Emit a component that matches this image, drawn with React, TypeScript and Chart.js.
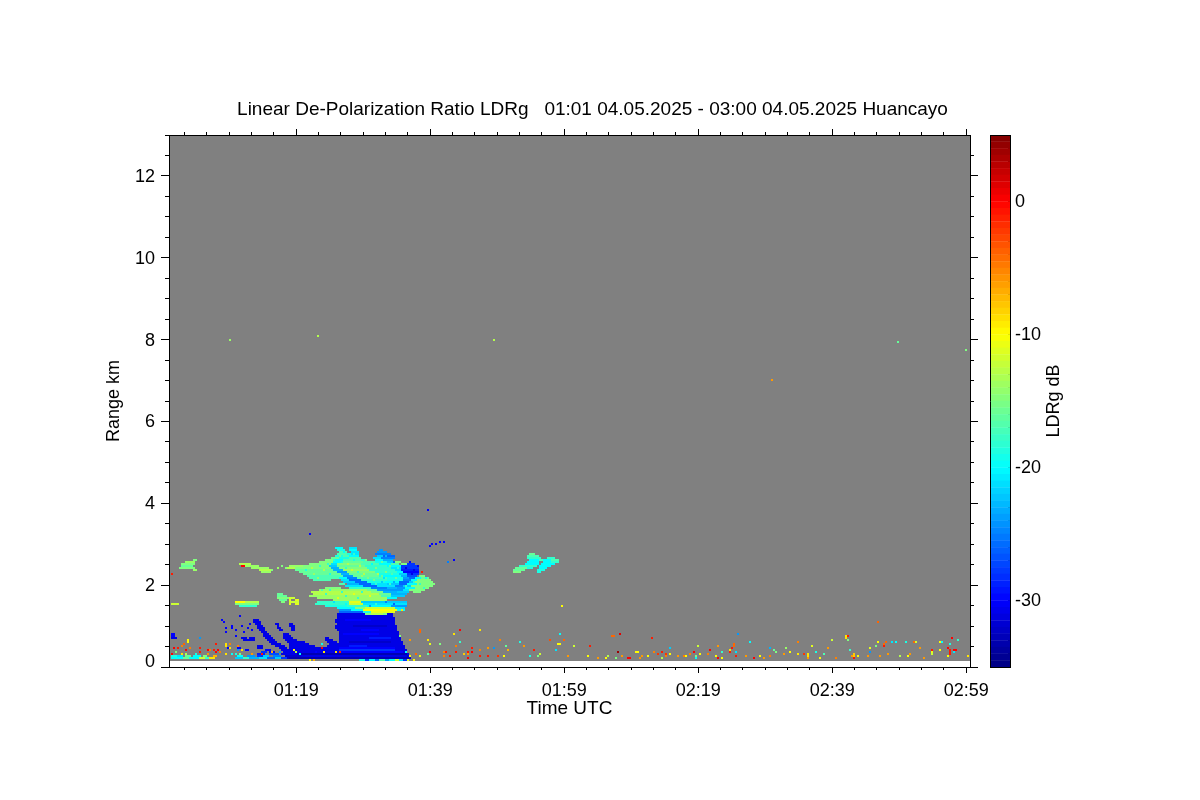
import React, { useEffect, useRef } from "react";
import { Chart, registerables } from "chart.js";

Chart.register(...registerables);

const TITLE = "Linear De-Polarization Ratio LDRg   01:01 04.05.2025 - 03:00 04.05.2025 Huancayo";
const FONT = "'Liberation Sans', Arial, sans-serif";

// axes
const TIME_MAX = 119.552;
const RANGE_MAX = 13;
const timeMajor = [19, 39, 59, 79, 99, 119];
const timeMinor = [2.33, 5.67, 9, 12.33, 15.67, 22.33, 25.67, 29, 32.33, 35.67, 42.33, 45.67, 49, 52.33, 55.67, 62.33, 65.67, 69, 72.33, 75.67, 82.33, 85.67, 89, 92.33, 95.67, 102.33, 105.67, 109, 112.33, 115.67];
const rangeMajor = [0, 2, 4, 6, 8, 10, 12];
const rangeMinor = [0.5, 1, 1.5, 2.5, 3, 3.5, 4.5, 5, 5.5, 6.5, 7, 7.5, 8.5, 9, 9.5, 10.5, 11, 11.5, 12.5];
const ldrLabels = [-30, -20, -10, 0];
const ldrTicks = [-34, -33, -32, -31, -30, -29, -28, -27, -26, -25, -24, -23, -22, -21, -20, -19, -18, -17, -16, -15, -14, -13, -12, -11, -10, -9, -8, -7, -6, -5, -4, -3, -2, -1, 0, 1, 2, 3, 4];
const ldrLevels = [-35, -34.5, -34, -33.5, -33, -32.5, -32, -31.5, -31, -30.5, -30, -29.5, -29, -28.5, -28, -27.5, -27, -26.5, -26, -25.5, -25, -24.5, -24, -23.5, -23, -22.5, -22, -21.5, -21, -20.5, -20, -19.5, -19, -18.5, -18, -17.5, -17, -16.5, -16, -15.5, -15, -14.5, -14, -13.5, -13, -12.5, -12, -11.5, -11, -10.5, -10, -9.5, -9, -8.5, -8, -7.5, -7, -6.5, -6, -5.5, -5, -4.5, -4, -3.5, -3, -2.5, -2, -1.5, -1, -0.5, 0, 0.5, 1, 1.5, 2, 2.5, 3, 3.5, 4, 4.5];

// sampling of the lidar grid: one profile in minutes, one range gate in km
const PROFILE_MIN = 0.29851;
const GATE_KM = 13 / 266;
const FIRST_GATE = 3;

// [gate, firstProfile, lastProfile, LDR dB, ...more runs on that gate]
const plumeRows = [
  [23, 42, 44, -31], [22, 42, 45, -31], [21, 43, 45, -31, 53, 54, -31, 60, 61, -31],
  [20, 44, 46, -31, 54, 54, -31, 60, 62, -31], [19, 44, 47, -31, 54, 55, -31, 61, 62, -31],
  [18, 45, 47, -31, 55, 56, -31, 61, 62, -31], [17, 46, 48, -31], [16, 47, 49, -31, 57, 59, -31],
  [15, 47, 50, -31, 57, 60, -31], [14, 48, 51, -31, 36, 38, -31, 40, 42, -31, 57, 61, -31, 78, 79, -31],
  [13, 49, 52, -31, 37, 42, -31, 58, 63, -31, 78, 81, -31], [12, 50, 53, -31, 59, 67, -31, 79, 83, -31],
  [11, 51, 55, -31, 60, 69, -31, 80, 84, -31], [10, 44, 46, -31, 53, 57, -31, 60, 72, -31, 79, 84, -31],
  [9, 29, 30, -30, 34, 35, -30, 44, 46, -31, 55, 58, -31, 60, 75, -31, 77, 84, -31], [8, 38, 39, -30, 48, 50, -30, 56, 84, -31],
  [7, 46, 48, -28, 50, 52, -30, 57, 72, -31, 74, 84, -31], [6, 44, 47, -29, 50, 54, -27, 56, 60, -31],
];

const massRows = [
  [28, 86, 110, -31], [27, 85, 110, -31], [26, 84, 111, -31], [25, 84, 111, -31], [24, 84, 112, -31], [23, 83, 112, -31],
  [22, 83, 112, -31], [21, 84, 112, -31], [20, 83, 113, -31], [19, 83, 113, -31], [18, 84, 113, -31], [17, 85, 114, -31],
  [16, 85, 114, -31], [15, 85, 114, -31], [14, 85, 115, -31], [13, 85, 115, -31], [12, 85, 116, -31], [11, 84, 116, -31],
  [10, 83, 117, -31], [9, 82, 117, -31], [8, 80, 118, -31], [7, 72, 118, -31], [6, 60, 119, -31], [5, 58, 119, -32], [4, 58, 120, -32],
];

const massTexture = [
  [23, 88, 100, -30], [20, 92, 108, -32], [18, 96, 104, -30], [16, 87, 104, -30], [14, 100, 110, -29], [12, 90, 110, -32],
  [10, 90, 98, -29], [9, 84, 112, -30], [8, 84, 112, -28], [7, 70, 116, -30], [6, 64, 118, -33], [5, 66, 118, -31], [4, 60, 119, -33],
];

const cloudRows = [
  [59, 83, 86, -20, 90, 93, -21],
  [58, 84, 87, -19, 90, 93, -20, 105, 106, -24],
  [57, 85, 88, -17, 91, 94, -21, 104, 108, -24],
  [56, 84, 88, -17, 89, 90, -19, 91, 94, -21, 103, 110, -25],
  [55, 83, 86, -19, 87, 89, -17, 90, 94, -20, 104, 106, -22, 107, 112, -26],
  [54, 81, 84, -16, 85, 89, -19, 90, 95, -17, 102, 105, -21, 106, 112, -25],
  [53, 78, 82, -15, 83, 86, -20, 87, 95, -17, 96, 98, -18, 103, 106, -20, 107, 111, -23],
  [52, 75, 81, -15, 82, 85, -20, 86, 96, -16, 97, 102, -17, 103, 108, -19, 109, 112, -22, 113, 115, -15],
  [51, 70, 80, -15, 81, 83, -21, 84, 95, -15, 96, 104, -17, 105, 110, -20, 111, 114, -17, 116, 118, -15, 119, 122, -28],
  [50, 60, 66, -14, 67, 79, -15, 80, 83, -22, 84, 97, -16, 98, 108, -18, 109, 115, -20, 116, 123, -28],
  [49, 58, 62, -13, 63, 80, -15, 81, 84, -23, 85, 98, -15, 99, 110, -18, 111, 115, -21, 116, 124, -28],
  [48, 63, 81, -16, 82, 86, -23, 87, 100, -14, 101, 112, -18, 113, 115, -21, 116, 124, -29],
  [47, 65, 83, -16, 84, 88, -24, 89, 102, -15, 103, 113, -18, 114, 116, -20, 117, 124, -30],
  [46, 67, 85, -16, 86, 89, -23, 90, 104, -16, 105, 114, -19, 115, 118, -22, 119, 124, -28],
  [45, 69, 86, -17, 87, 91, -24, 92, 106, -16, 107, 115, -20, 116, 118, -23, 119, 123, -27, 125, 127, -15],
  [44, 70, 84, -17, 85, 88, -20, 89, 93, -25, 94, 108, -17, 109, 116, -19, 117, 119, -24, 120, 122, -26, 123, 125, -20, 126, 129, -16],
  [43, 72, 80, -17, 86, 89, -21, 90, 95, -26, 96, 108, -18, 109, 116, -19, 117, 120, -25, 121, 123, -20, 124, 130, -15],
  [42, 87, 92, -22, 93, 98, -26, 99, 107, -19, 108, 114, -20, 115, 119, -26, 120, 122, -22, 123, 131, -15],
  [41, 85, 87, -17, 89, 94, -23, 95, 100, -26, 101, 108, -21, 109, 114, -22, 115, 118, -26, 119, 123, -20, 124, 132, -15],
  [40, 88, 96, -21, 97, 103, -26, 104, 112, -21, 113, 116, -25, 117, 120, -22, 121, 131, -15],
  [39, 78, 85, -15, 90, 100, -18, 101, 108, -25, 109, 113, -23, 114, 117, -24, 118, 122, -20, 123, 129, -15],
  [38, 75, 98, -14, 99, 103, -16, 104, 110, -24, 111, 115, -24, 116, 119, -21, 120, 127, -15],
  [37, 71, 100, -13, 101, 106, -15, 107, 113, -23, 114, 119, -22, 122, 125, -15],
  [36, 72, 104, -13, 105, 110, -16, 111, 118, -23],
  [35, 70, 105, -14, 106, 110, -17, 111, 117, -22],
  [34, 74, 108, -14, 109, 113, -20],
  [33, 82, 108, -14],
  [32, 74, 89, -18, 90, 95, -11, 96, 118, -22],
  [31, 73, 89, -18, 90, 96, -12, 97, 118, -21],
  [30, 78, 88, -19, 89, 98, -18, 99, 110, -20, 111, 118, -24],
  [29, 84, 92, -20, 93, 97, -15, 98, 112, -12, 113, 117, -21],
  [28, 85, 90, -24, 91, 96, -20, 97, 113, -10, 114, 117, -20],
  [27, 85, 96, -26, 97, 100, -19, 101, 112, -11],
  [26, 98, 100, -15, 101, 106, -13, 107, 108, -15],
];

// [profile, gate, LDR dB] mottling seen inside the cloud deck
const cloudMottle = [
  [86, 52, -19], [89, 51, -13], [92, 53, -19], [95, 50, -13], [88, 49, -18], [91, 48, -12], [94, 47, -18], [97, 46, -13], [100, 48, -18], [103, 49, -15],
  [99, 44, -15], [102, 43, -15], [105, 45, -19], [108, 47, -15], [110, 50, -16], [106, 52, -16], [101, 51, -20], [98, 53, -15], [96, 45, -14], [104, 46, -13],
  [111, 46, -17], [113, 44, -16], [112, 42, -23], [110, 41, -18], [106, 42, -22], [103, 41, -18], [107, 44, -21], [114, 49, -18], [112, 52, -26], [108, 55, -23],
  [85, 55, -16], [87, 57, -20], [92, 56, -18], [82, 53, -18], [79, 51, -18], [75, 50, -18], [71, 49, -13], [77, 48, -13], [72, 46, -14], [68, 48, -19], [80, 46, -19], [74, 44, -14],
  [80, 38, -18], [86, 37, -18], [92, 36, -11], [96, 37, -18], [78, 36, -18], [88, 35, -18], [94, 34, -18], [84, 34, -11], [100, 35, -11], [76, 38, -17],
  [103, 31, -18], [108, 32, -25], [112, 31, -26], [100, 30, -24], [88, 31, -20], [82, 32, -21], [116, 38, -24], [118, 40, -18], [125, 41, -18], [128, 44, -19], [127, 39, -18], [122, 42, -18],
  [58, 49, -15], [56, 50, -15], [54, 49, -14], [51, 48, -15], [120, 52, -30], [124, 50, -31], [118, 49, -31], [121, 46, -31], [122, 48, -31], [126, 47, -1],
];

const sideCloudRows = [
  [53, 12, 13, -15], [52, 8, 12, -14], [51, 6, 12, -15], [50, 6, 11, -16], [49, 5, 12, -15], [48, 12, 13, -14], [46, 1, 1, -1],
  [51, 35, 40, -13], [50, 36, 44, -14], [49, 41, 49, -14], [48, 45, 50, -13], [47, 46, 50, -14], [50, 36, 37, 0],
  [32, 33, 37, -10, 38, 44, -13], [31, 33, 44, -15, 1, 4, -12], [30, 35, 43, -18],
  [36, 54, 56, -16], [35, 54, 58, -16], [34, 54, 59, -15, 60, 62, -12], [33, 55, 58, -16, 60, 60, -11, 63, 64, -11],
  [32, 56, 57, -15, 60, 64, -12], [31, 60, 60, -11, 63, 64, -11],
  [56, 180, 182, -16], [55, 179, 184, -17], [54, 179, 185, -18, 189, 192, -18], [53, 180, 184, -20, 185, 186, -17, 187, 190, -20, 191, 194, -17],
  [52, 179, 184, -20, 187, 190, -20, 191, 194, -18], [51, 178, 184, -20, 186, 192, -20], [50, 175, 183, -18, 185, 190, -20],
  [49, 173, 178, -16, 179, 181, -19, 185, 188, -20], [48, 172, 177, -16, 184, 187, -19], [47, 172, 175, -15, 184, 185, -19],
];

const groundRows = [
  [4, 1, 6, -20, 7, 9, -16, 10, 14, -20, 15, 17, -12, 18, 19, -18, 20, 22, -9, 33, 36, -22, 37, 39, -18, 40, 44, -23, 45, 48, -21, 49, 52, -26, 53, 55, -22, 56, 58, -28],
  [5, 1, 3, -19, 4, 6, -21, 8, 10, -16, 12, 15, -20, 17, 18, -15, 22, 23, -7, 34, 36, -20, 39, 42, -24, 44, 46, -28, 47, 49, -22, 52, 55, -25],
  [16, 1, 2, -30], [15, 1, 2, -30], [14, 1, 3, -31],
  [3, 70, 70, -10, 72, 72, -7, 95, 97, -19, 98, 99, -28, 100, 102, -20, 103, 104, -26, 105, 107, -17, 108, 109, -24, 110, 112, -20, 113, 114, -12, 115, 116, -21, 117, 118, -28, 119, 119, -11, 122, 122, -10],
];

// [profile, gate, LDR dB]
const speckles = [
  [26, 23, -30], [27, 22, -30], [28, 19, -30], [28, 17, -30], [31, 19, -30], [31, 20, -30], [35, 25, -30], [36, 20, -30], [37, 17, -30], [33, 15, -30], [33, 18, -30], [39, 19, -30], [40, 21, -30], [41, 18, -30],
  [9, 13, -10], [9, 12, -10], [7, 11, -4], [15, 14, -24], [23, 11, -1], [28, 11, -9], [28, 10, -9], [30, 11, -5], [34, 10, -5], [2, 9, 0], [4, 9, -1], [6, 10, -5], [8, 8, 0], [10, 9, -5], [15, 9, -1], [19, 8, 0], [20, 8, -5], [22, 8, -1], [24, 8, 0], [30, 9, -9], [36, 8, -9], [34, 8, -24],
  [1, 6, 0], [3, 7, -15], [6, 6, -9], [8, 6, -13], [13, 6, -19], [15, 7, -1], [19, 6, -6], [23, 7, 0], [25, 7, -5], [28, 6, -9], [31, 6, -20], [33, 6, -19], [35, 6, -15], [41, 6, -6], [46, 6, -1], [51, 7, -7], [55, 7, -24],
  [62, 8, -10], [63, 7, -13], [65, 6, -20], [76, 11, -20], [76, 9, 0], [77, 7, -9], [83, 7, -9], [85, 7, -1], [115, 15, -15], [120, 13, -6], [125, 18, -4], [120, 5, -10], [118, 7, -20], [116, 28, -9],
  [125, 17, -4], [120, 13, -6], [145, 18, 0], [155, 18, -9], [142, 16, -9], [195, 16, -20], [221, 15, -4], [222, 15, -4], [225, 16, 1], [241, 14, -1], [165, 13, -5], [190, 13, -3], [197, 13, -4], [129, 13, -9], [130, 11, -11], [135, 11, -15], [145, 12, -18], [175, 12, -19], [194, 11, -10], [195, 11, -10], [210, 10, -1], [202, 10, -12], [143, 10, -5], [151, 9, -1], [168, 10, -16], [177, 10, -6], [159, 9, -6], [162, 9, -24], [155, 8, -5], [169, 8, -7], [182, 8, -1], [193, 8, -21], [250, 9, -22],
  [130, 7, 0], [138, 7, -1], [143, 7, -1], [149, 7, -1], [151, 7, 0], [137, 7, -5], [147, 6, -8], [149, 6, -6], [129, 6, -16], [123, 6, -4], [185, 6, -12], [224, 7, 4], [233, 7, -10], [234, 7, -10], [242, 7, -5], [246, 7, -1], [250, 6, -10], [248, 6, -2], [244, 6, -2], [260, 6, -5],
  [125, 5, -11], [140, 5, -1], [137, 5, -5], [149, 4, 0], [155, 5, -1], [159, 5, -1], [164, 5, -2], [167, 5, -10], [180, 5, -19], [184, 5, -15], [199, 5, -6], [209, 5, -10], [214, 4, -6], [218, 4, -10], [219, 5, -13], [223, 4, -15], [226, 5, -6], [229, 4, 0], [230, 4, 0], [235, 4, -6], [236, 5, -6], [239, 5, -10], [246, 4, -13], [248, 5, -5], [254, 5, -6], [258, 5, -10],
  [354, 22, -4], [284, 16, -24], [338, 15, -9], [338, 14, -9], [339, 15, -1], [331, 13, -12], [339, 13, -15], [290, 12, -20], [282, 11, -4], [282, 10, -4], [264, 10, -12], [358, 12, -4], [357, 11, -4], [357, 10, -1], [354, 12, -10], [361, 12, -21], [363, 12, -20], [368, 12, -19], [372, 12, -4], [373, 12, -12], [385, 12, -10], [386, 12, -20], [391, 14, 0], [394, 13, -18], [390, 11, -19], [314, 12, -5], [274, 10, -6], [321, 10, -11], [308, 9, -14], [353, 10, -15], [350, 9, -11], [329, 9, -6], [375, 9, -6], [389, 9, 0],
  [270, 8, 0], [280, 8, -9], [280, 7, -1], [281, 9, -1], [300, 9, -23], [302, 8, -16], [303, 7, -15], [310, 7, -10], [262, 7, 0], [340, 8, -18], [323, 7, -19], [381, 8, -1], [381, 7, -11], [390, 8, -1], [390, 7, -1], [390, 6, -1], [392, 8, 0], [393, 8, 0], [385, 8, -10], [392, 7, -21],
  [260, 6, -5], [265, 6, -10], [276, 7, -18], [283, 7, -21], [269, 6, -5], [307, 6, -6], [314, 6, -9], [317, 6, -2], [319, 5, -9], [319, 6, -9], [327, 6, -17], [342, 5, -8], [342, 6, -8], [350, 7, -24], [359, 6, -6], [370, 6, -6], [381, 6, -12],
  [257, 5, -5], [263, 4, -20], [263, 5, -15], [273, 5, -10], [274, 4, 0], [276, 4, -10], [283, 5, -1], [288, 5, -6], [292, 4, 0], [295, 5, -10], [297, 4, -6], [300, 5, -5], [319, 4, -6], [325, 4, -10], [333, 4, -5], [341, 5, -6], [342, 4, -1], [344, 5, -10], [349, 5, -6], [355, 5, -6], [365, 5, -13], [369, 5, -10], [377, 4, -6], [389, 5, -10], [399, 5, -9],
  [30, 163, -14], [74, 165, -13], [162, 163, -13], [301, 143, -6], [364, 162, -16], [398, 158, -15], [70, 66, -30], [129, 78, -30], [131, 61, -30], [130, 60, -30], [133, 61, -30], [135, 62, -30], [137, 62, -30], [196, 30, -10], [139, 52, -25], [142, 53, -30],
];

function ldrColor(v: number): string {
  const f = (v + 35) / 40;
  const ch = (c: number) => Math.round(255 * Math.min(1, Math.max(0, 1.5 - Math.abs(4 * f - c))));
  return `rgb(${ch(3)},${ch(2)},${ch(1)})`;
}

const asRows = (cells: number[][]) => cells.map(([p, g, v]) => [g, p, p, v]);

function buildCellDatasets(): any[] {
  const layers: number[][][] = [
    massRows,
    massTexture,
    plumeRows,
    cloudRows,
    asRows(cloudMottle),
    sideCloudRows,
    groundRows,
    asRows(speckles),
  ];
  const out: any[] = [];
  for (const rows of layers) {
    for (const row of rows) {
      const g = row[0];
      const y = (g + 0.5) * GATE_KM;
      for (let i = 1; i < row.length; i += 3) {
        const [p0, p1, v] = [row[i], row[i + 1], row[i + 2]];
        out.push({
          data: [{ x: p0 * PROFILE_MIN, y }, { x: (p1 + 1) * PROFILE_MIN, y }],
          borderColor: ldrColor(v),
          borderWidth: 2,
          showLine: true,
          pointRadius: 0,
          tension: 0,
          borderCapStyle: "butt",
        });
      }
    }
  }
  return out;
}

const setTicks = (values: number[]) => (scale: any) => {
  scale.ticks = values.map((value) => ({ value }));
};
const fixWidth = (w: number) => (scale: any) => {
  scale.width = w;
};
const fixHeight = (h: number) => (scale: any) => {
  scale.height = h;
};
const hhmm = (v: number) => {
  const total = 60 + Math.round(v);
  return `${String(Math.floor(total / 60)).padStart(2, "0")}:${String(total % 60).padStart(2, "0")}`;
};
// the 0 label sits above its tick in the reference: an empty second line lifts it
const rangeLabel = (v: number) => (v === 0 ? ["0", ""] : String(v));

const tickFont = { family: FONT, size: 18, lineHeight: "12px" };

function axis(position: string, values: number[], tickLength: number, size: number, weight: number, extra: any = {}): any {
  const horizontal = position === "top" || position === "bottom";
  const { labels, labelPadding, labelOffset, callback, title, min, max } = extra;
  return {
    type: "linear",
    position,
    weight,
    min: min ?? 0,
    max: max ?? (horizontal ? TIME_MAX : RANGE_MAX),
    afterBuildTicks: setTicks(values),
    afterFit: horizontal ? fixHeight(size) : fixWidth(size),
    border: { display: true, color: "#000", width: 1, z: 1 },
    grid: { drawOnChartArea: false, drawTicks: tickLength !== 0, tickLength, tickColor: "#000", tickWidth: 1 },
    ticks: {
      display: !!labels,
      color: "#000",
      font: tickFont,
      padding: labelPadding ?? 4,
      labelOffset: labelOffset ?? 0,
      autoSkip: false,
      maxRotation: 0,
      minRotation: 0,
      callback: callback ?? ((v: number) => String(v)),
    },
    title: title ?? { display: false },
  };
}

const axisTitle = (text: string, offset: number, size = 18) => ({
  display: true,
  text,
  color: "#000",
  font: { family: FONT, size, lineHeight: 1 },
  padding: { top: offset - size / 2, bottom: offset - size / 2 },
});

export default function App() {
  const mainRef = useRef<HTMLCanvasElement>(null);
  const barRef = useRef<HTMLCanvasElement>(null);

  useEffect(() => {
    const cells = buildCellDatasets();
    const background = [
      { data: [{ x: 0, y: FIRST_GATE * GATE_KM }, { x: TIME_MAX, y: FIRST_GATE * GATE_KM }], showLine: true, borderWidth: 0, pointRadius: 0, fill: false },
      { data: [{ x: 0, y: RANGE_MAX }, { x: TIME_MAX, y: RANGE_MAX }], showLine: true, borderWidth: 0, pointRadius: 0, fill: "-1", backgroundColor: "#808080" },
    ];
    const datasets = [...background, ...cells].map((d, i) => ({ ...d, order: 10000 - i }));

    const main = new Chart(mainRef.current!, {
      type: "scatter",
      data: { datasets },
      options: {
        animation: false,
        responsive: false,
        devicePixelRatio: 1,
        parsing: false,
        layout: { padding: { left: 0, right: 15, top: 0, bottom: 0 } },
        plugins: {
          legend: { display: false },
          tooltip: { enabled: false },
          title: {
            display: true,
            text: TITLE,
            color: "#000",
            font: { family: FONT, size: 19, weight: "normal", lineHeight: 1 },
            padding: { top: 100.5, bottom: 15.5 },
          },
        },
        scales: {
          x: axis("bottom", timeMajor, 6, 133, 1, { labels: true, labelPadding: 12, callback: hhmm, title: axisTitle("Time UTC", 91, 19) }),
          xMinor: axis("bottom", timeMinor, 3, 0, -1),
          xTop: axis("top", timeMajor, 6, 0, -1),
          xTopMinor: axis("top", timeMinor, 3, 0, -2),
          y: axis("left", rangeMajor, 8, 169, 2, { labels: true, labelPadding: 6, labelOffset: 1, callback: rangeLabel, title: axisTitle("Range km", 114) }),
          yMinor: axis("left", [...rangeMinor, 13], 4, 0, 0),
          yRight: axis("right", rangeMajor, 8, 215, 1),
          yRightMinor: axis("right", rangeMinor, 4, 0, -1),
        },
      } as any,
    });

    const barSets = ldrLevels.map((v, i) => ({
      data: [{ x: 0, y: v + 0.25 }, { x: 1, y: v + 0.25 }],
      showLine: true,
      borderColor: ldrColor(v + 0.25),
      borderWidth: 7,
      pointRadius: 0,
      borderCapStyle: "butt",
      order: i,
    }));
    const ldrExtent = { min: -35, max: 5 };
    const bar = new Chart(barRef.current!, {
      type: "scatter",
      data: { datasets: barSets },
      options: {
        animation: false,
        responsive: false,
        devicePixelRatio: 1,
        parsing: false,
        layout: { padding: { top: 135, bottom: 133, left: 0, right: 0 } },
        plugins: { legend: { display: false }, tooltip: { enabled: false } },
        scales: {
          x: axis("bottom", [], 0, 0, 0, { min: 0, max: 1 }),
          xTop: axis("top", [], 0, 0, 0, { min: 0, max: 1 }),
          y: axis("left", [], 0, 990, 0, { ...ldrExtent, title: axisTitle("LDRg dB", 1054) }),
          yLabels: axis("right", ldrLabels, 0, 190, 1, { ...ldrExtent, labels: true, labelPadding: 5, labelOffset: 1 }),
          yTicks: axis("right", ldrTicks, -2, 0, 0, ldrExtent),
        },
      } as any,
    });

    return () => {
      main.destroy();
      bar.destroy();
    };
  }, []);

  const style: React.CSSProperties = { position: "absolute", left: 0, top: 0, display: "block" };
  return (
    <>
      <canvas ref={mainRef} width={1200} height={800} style={style} />
      <canvas ref={barRef} width={1200} height={800} style={{ ...style, pointerEvents: "none" }} />
    </>
  );
}
